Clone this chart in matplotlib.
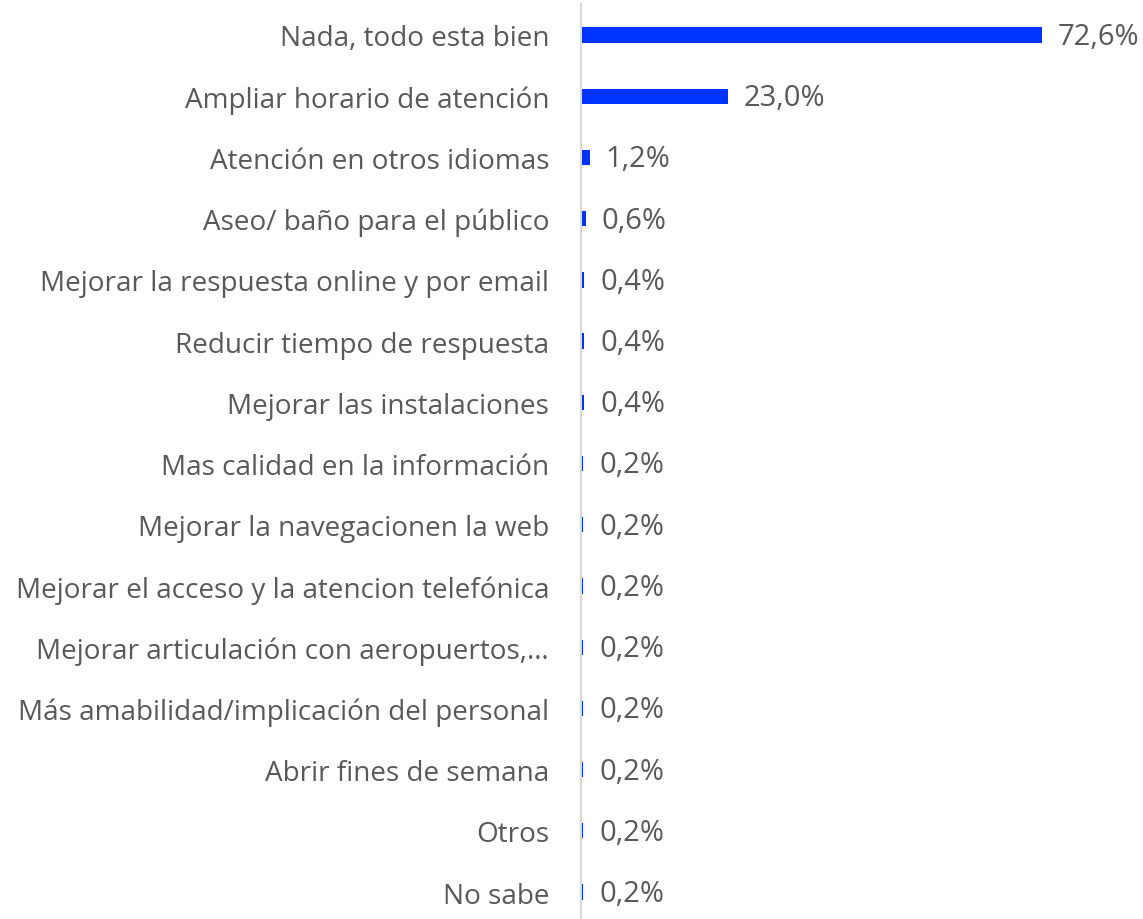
import matplotlib.pyplot as plt

categorias = [
    "Nada, todo esta bien",
    "Ampliar horario de atención",
    "Atención en otros idiomas",
    "Aseo/ baño para el público",
    "Mejorar la respuesta online y por email",
    "Reducir tiempo de respuesta",
    "Mejorar las instalaciones",
    "Mas calidad en la información",
    "Mejorar la navegacionen la web",
    "Mejorar el acceso y la atencion telefónica",
    "Mejorar articulación con aeropuertos,…",
    "Más amabilidad/implicación del personal",
    "Abrir fines de semana",
    "Otros",
    "No sabe",
]
valores = [72.6, 23.0, 1.2, 0.6, 0.4, 0.4, 0.4, 0.2, 0.2, 0.2, 0.2, 0.2, 0.2, 0.2, 0.2]
etiquetas = ["72,6%", "23,0%", "1,2%", "0,6%", "0,4%", "0,4%", "0,4%",
             "0,2%", "0,2%", "0,2%", "0,2%", "0,2%", "0,2%", "0,2%", "0,2%"]

plt.rcParams['font.family'] = ['Open Sans', 'DejaVu Sans']

W, H = 1143, 920
fig = plt.figure(figsize=(W / 100, H / 100), dpi=100)
# axes placed in pixel terms
left, right, top, bottom = 581, 1088, 5, 920
ax = fig.add_axes([left / W, 1 - bottom / H, (right - left) / W, (bottom - top) / H])

y = list(range(len(categorias)))
ax.barh(y, valores, height=0.25, color='#0033ff', zorder=3)
ax.set_xlim(-0.15, 79.85)
ax.set_ylim(14.44, -0.506)

for yi, v, t in zip(y, valores, etiquetas):
    ax.annotate(t, (v, yi), xytext=(11.5, -1), textcoords='offset points',
                ha='left', va='center', fontsize=21, color='#595959', clip_on=False)

ax.set_yticks(y)
ax.set_yticklabels(categorias, fontsize=20.1, color='#595959')
ax.tick_params(axis='y', length=0, pad=23)
ax.set_xticks([])
for s in ['top', 'right', 'bottom']:
    ax.spines[s].set_visible(False)
ax.spines['left'].set_color('#d9d9d9')
ax.spines['left'].set_linewidth(1.5)
ax.spines['left'].set_zorder(1)

fig.savefig('out.png', dpi=100)
